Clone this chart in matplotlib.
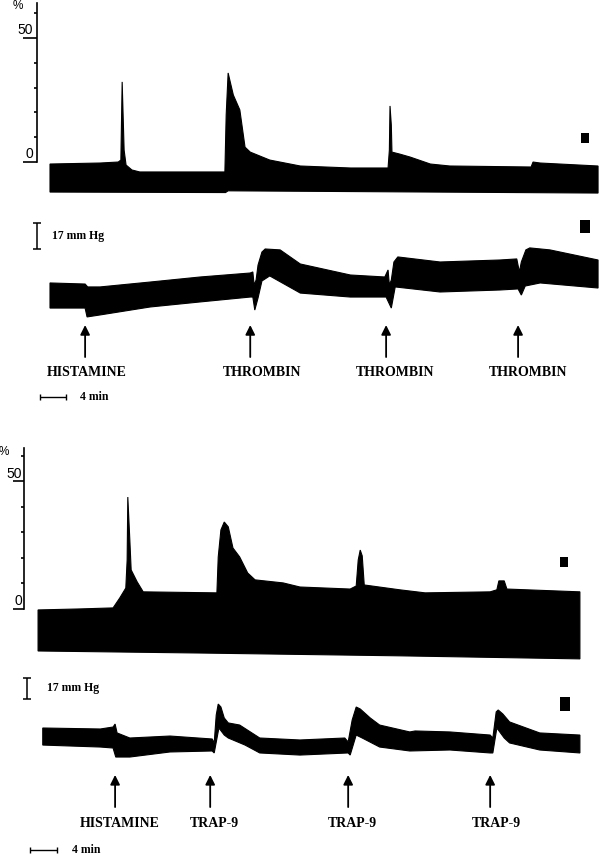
import numpy as np
import matplotlib
matplotlib.use("Agg")
import matplotlib.pyplot as plt
from matplotlib.patches import Rectangle

# ---------------------------------------------------------------------
# Experiment 1 (thrombin)   time in min, flow in %, pressure in mmHg
# ---------------------------------------------------------------------
cbf1_up_t = [0.0, 7.7, 10.5, 10.9, 11.1, 11.4, 11.7, 12.6, 13.8, 26.9, 27.1, 27.4,
             28.2, 29.2, 30.0, 30.8, 33.8, 38.5, 46.2, 52.0, 52.2, 52.3, 52.5,
             52.6, 53.8, 55.4, 58.5, 61.5, 74.0, 74.3, 75.4, 84.3]
cbf1_up = [-0.8, -0.4, 0.0, 0.8, 32.3, 4.8, -1.2, -3.2, -4.0, -4.0, 19.0, 35.9,
           27.0, 21.0, 6.0, 4.0, 0.8, -1.6, -2.4, -2.4, 4.8, 22.6, 14.9,
           4.0, 3.2, 2.0, -0.8, -1.6, -2.0, 0.0, -0.4, -1.6]
cbf1_lo_t = [0.0, 27.0, 27.4, 84.3]
cbf1_lo = [-12.1, -12.3, -11.6, -12.5]

pap1_up_t = [0.0, 5.4, 5.8, 7.7, 15.4, 23.1, 30.8, 31.2, 31.4, 31.7, 32.0, 32.6,
             33.1, 35.4, 38.5, 46.2, 51.5, 52.0, 52.2, 52.5, 52.9, 53.5, 60.0,
             69.2, 71.8, 72.2, 72.5, 73.2, 73.8, 76.9, 84.3]
pap1_up = [24.2, 23.5, 21.6, 21.6, 24.8, 28.1, 30.7, 31.4, 22.9, 26.1, 35.9, 44.4,
           46.4, 45.8, 36.6, 29.4, 28.1, 32.7, 22.9, 26.1, 37.9, 41.2, 37.9,
           39.2, 39.9, 31.4, 37.9, 45.8, 47.1, 45.8, 39.2]
pap1_lo_t = [0.0, 5.4, 5.7, 7.7, 15.4, 23.1, 30.8, 31.2, 31.5, 32.0, 32.6, 33.8,
             38.5, 46.2, 51.7, 52.5, 53.1, 60.0, 69.2, 72.0, 72.5, 73.1, 75.4, 84.3]
pap1_lo = [7.8, 7.8, 2.0, 3.3, 8.5, 11.8, 15.0, 15.0, 6.5, 14.4, 25.5, 28.8,
           17.6, 15.0, 15.0, 7.8, 21.6, 18.3, 19.6, 20.3, 16.3, 22.2, 24.2, 20.9]

events1 = ["HISTAMINE", "THROMBIN", "THROMBIN", "THROMBIN"]
events1_t = [5.4, 30.8, 51.7, 72.0]

# ---------------------------------------------------------------------
# Experiment 2 (TRAP-9)
# ---------------------------------------------------------------------
cbf2_up_t = [0.0, 6.3, 11.2, 12.2, 13.1, 13.3, 13.4, 13.7, 13.9, 14.8, 15.7, 26.7,
             26.9, 27.3, 27.8, 28.4, 29.1, 30.1, 31.3, 32.4, 36.6, 39.1, 46.6,
             47.5, 47.8, 48.1, 48.4, 48.7, 54.0, 57.8, 67.5, 68.5, 68.8, 69.6,
             70.0, 80.9]
cbf2_up = [-0.4, 0.0, 0.4, 4.3, 8.2, 19.2, 43.9, 27.1, 15.3, 10.6, 6.7, 6.3,
           20.4, 31.0, 34.1, 32.2, 23.9, 20.4, 14.1, 11.4, 10.2, 8.6, 7.8,
           9.0, 19.2, 23.1, 20.8, 9.4, 7.5, 6.3, 6.7, 7.5, 11.0, 11.0,
           7.8, 6.7]
cbf2_lo_t = [0.0, 24.2, 54.0, 80.9]
cbf2_lo = [-16.5, -17.3, -18.4, -19.6]

pap2_up_t = [0.7, 9.3, 11.2, 11.5, 11.8, 13.7, 19.7, 26.0, 26.3, 26.6, 26.9, 27.3,
             27.8, 28.4, 30.1, 33.1, 39.1, 45.8, 46.3, 46.9, 47.5, 48.1, 49.6,
             51.0, 55.5, 56.3, 61.5, 67.5, 67.9, 68.4, 68.7, 69.4, 70.4, 74.9, 80.9]
pap2_up = [34.0, 33.2, 34.8, 37.2, 30.0, 25.9, 27.5, 25.1, 21.9, 44.5, 53.4, 51.0,
           42.1, 38.1, 36.4, 25.9, 24.3, 25.9, 22.7, 40.5, 51.0, 49.4, 42.1,
           36.4, 30.8, 31.6, 30.8, 28.3, 25.9, 47.0, 48.6, 45.3, 38.9, 30.0, 28.3]
pap2_lo_t = [0.7, 9.3, 11.2, 11.6, 13.7, 19.7, 26.0, 26.3, 27.0, 27.8, 28.4, 30.9,
             33.1, 39.1, 46.3, 46.6, 47.5, 48.4, 51.0, 55.5, 61.5, 67.5, 67.9,
             68.5, 69.6, 70.4, 74.9, 80.9]
pap2_lo = [20.2, 18.6, 17.8, 10.5, 10.5, 14.6, 15.4, 13.8, 34.0, 28.3, 25.9, 20.2,
           13.8, 12.1, 13.8, 12.1, 28.3, 25.9, 18.6, 15.4, 16.2, 13.8, 13.8,
           34.0, 25.9, 21.9, 16.2, 13.8]

events2 = ["HISTAMINE", "TRAP-9", "TRAP-9", "TRAP-9"]
events2_t = [11.5, 25.7, 46.3, 67.5]

cbf_ticks = [0, 10, 20, 30, 40, 50, 60]
cbf_labels = [0, 50]
scale_mmhg = 17
scale_min = 4

SERIF = ["Liberation Serif", "DejaVu Serif"]
SANS = ["Liberation Sans", "DejaVu Sans"]
W, H = 600, 855

fig = plt.figure(figsize=(W / 100, H / 100), dpi=100)


def px_axes(x0, y0, x1, y1):
    """Axes placed by pixel box of the 600x855 page."""
    return fig.add_axes([x0 / W, 1 - y1 / H, (x1 - x0) / W, (y1 - y0) / H])


def px_square(x, y, w, h):
    fig.add_artist(Rectangle((x / W, 1 - (y + h) / H), w / W, h / H,
                             transform=fig.transFigure, color="black", lw=0))


def trace(ax, up_t, up, lo_t, lo):
    xs = np.r_[up_t, lo_t[::-1]]
    ys = np.r_[up, lo[::-1]]
    ax.fill(xs, ys, color="black", lw=0.8)


def clear(ax):
    for s in ax.spines.values():
        s.set_visible(False)
    ax.set_xticks([]); ax.set_yticks([])
    ax.patch.set_alpha(0)


def cbf_axis(ax, top, long_len, lab_dx, pct_dx, pct_y):
    clear(ax)
    ax.spines["left"].set_visible(True)
    ax.spines["left"].set_bounds(0, top)
    ax.spines["left"].set_linewidth(1.2)
    ax.set_yticks(cbf_labels)
    ax.set_yticks(cbf_ticks, minor=True)
    ax.tick_params(axis="y", which="major", length=long_len, width=1.2, labelleft=False)
    ax.tick_params(axis="y", which="minor", length=2.2, width=1.2)
    for v in cbf_labels:
        ax.annotate(str(v), xy=(0, v), xycoords=("axes fraction", "data"),
                    xytext=(lab_dx, 0.5), textcoords="offset points",
                    ha="right", va="bottom", fontsize=10, family=SANS)
    ax.annotate("%", xy=(0, pct_y), xycoords=("axes fraction", "data"),
                xytext=(pct_dx, 0), textcoords="offset points",
                ha="right", va="center", fontsize=8.5, family=SANS)


def pressure_axis(ax, bar_t, bar_y, text_t, events, ev_t, lab_t, arrow_y,
                  lab_y, tbar_t, tbar_y, ttext_t):
    clear(ax)
    bar_kw = dict(color="black", lw=1.1, capsize=3.2, capthick=1.1, fmt="none")
    ax.errorbar(bar_t, bar_y + scale_mmhg / 2, yerr=scale_mmhg / 2,
                clip_on=False, **bar_kw)
    ax.text(text_t, bar_y + scale_mmhg / 2, f"{scale_mmhg} mm Hg", ha="left",
            va="center", fontsize=8.5, fontweight="bold", family=SERIF)
    for name, t, lt in zip(events, ev_t, lab_t):
        ax.annotate("", xy=(t, arrow_y[1]), xytext=(t, arrow_y[0]),
                    arrowprops=dict(arrowstyle="-|>", color="black", lw=1.3,
                                    mutation_scale=14, shrinkA=0, shrinkB=0))
        ax.text(lt, lab_y, name, ha="center", va="center", fontsize=10,
                fontweight="bold", family=SERIF)
    ax.errorbar(tbar_t + scale_min / 2, tbar_y, xerr=scale_min / 2,
                color="black", lw=1.0, capsize=2, capthick=1.0, fmt="none",
                clip_on=False)
    ax.text(ttext_t, tbar_y, f"{scale_min} min", ha="left", va="center",
            fontsize=8.5, fontweight="bold", family=SERIF)


# ---- Experiment 1 ----
ax = px_axes(37, 0, 600, 200)
ax.set_xlim(-2.0, 84.6); ax.set_ylim(-15.3, 65.3)
trace(ax, cbf1_up_t, cbf1_up, cbf1_lo_t, cbf1_lo)
cbf_axis(ax, 64, 10, -3, -10, 63)

ax = px_axes(37, 200, 600, 410)
ax.set_xlim(-2.0, 84.6); ax.set_ylim(-58.8, 78.4)
trace(ax, pap1_up_t, pap1_up, pap1_lo_t, pap1_lo)
pressure_axis(ax, -2.0, 46.4, 0.3, events1, events1_t,
              [5.7, 32.6, 53.0, 73.6], (-24.2, -3.3), -34.0,
              -1.5, -50.3, 4.6)

# ---- Experiment 2 ----
ax = px_axes(24, 430, 600, 665)
ax.set_xlim(-2.1, 83.9); ax.set_ylim(-22.0, 70.2)
trace(ax, cbf2_up_t, cbf2_up, cbf2_lo_t, cbf2_lo)
cbf_axis(ax, 63, 8, -1.5, -10.5, 61.6)

ax = px_axes(24, 665, 600, 855)
ax.set_xlim(-2.1, 83.9); ax.set_ylim(-68.8, 85.0)
trace(ax, pap2_up_t, pap2_up, pap2_lo_t, pap2_lo)
pressure_axis(ax, -1.6, 57.5, 1.3, events2, events2_t,
              [12.2, 26.3, 46.9, 68.4], (-30.0, -4.0), -42.9,
              -1.2, -64.8, 5.1)

# small black markers at the right of each trace
px_square(581, 133, 8, 10)
px_square(580, 220, 10, 13)
px_square(560, 557, 8, 10)
px_square(560, 697, 10, 14)

fig.savefig("out.png", dpi=100)
